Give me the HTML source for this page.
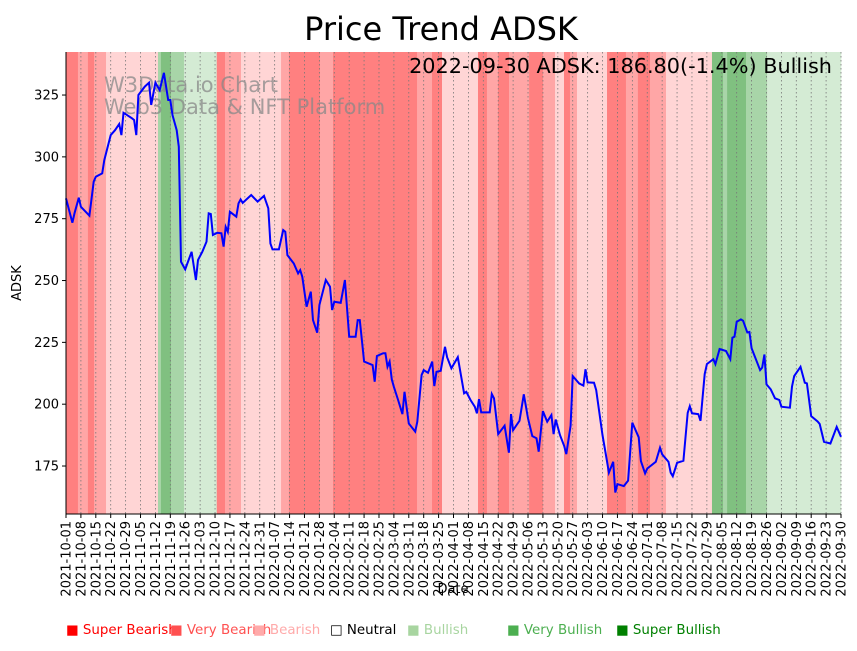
<!DOCTYPE html>
<html><head><meta charset="utf-8"><style>
body{margin:0;background:#fff;font-family:"Liberation Sans","DejaVu Sans",sans-serif;}
svg text{font-family:"DejaVu Sans","Liberation Sans",sans-serif;}
</style></head><body>
<svg id="chart" width="857" height="646" xmlns="http://www.w3.org/2000/svg">
<text x="441" y="40" font-size="32" text-anchor="middle" fill="#000">Price Trend ADSK</text>
<g id="bands"></g>
<g id="grid"></g>
<text x="104" y="92" font-size="21" fill="#888" fill-opacity="0.75">W3Data.io Chart</text>
<text x="104" y="114" font-size="21" fill="#888" fill-opacity="0.75">Web3 Data &amp; NFT Platform</text>
<polyline id="line" fill="none" stroke="#0000ff" stroke-width="2"/>
<text x="832" y="73" font-size="20.8" text-anchor="end" fill="#000">2022-09-30 ADSK: 186.80(-1.4%) Bullish</text>
<g id="xaxis"></g>
<g id="yaxis"></g>
<line x1="66" y1="52" x2="66" y2="514" stroke="#000"/>
<line x1="66" y1="514" x2="841" y2="514" stroke="#000"/>
<text x="453" y="593" font-size="13" text-anchor="middle">Date</text>
<text transform="translate(21,283) rotate(-90)" font-size="13" text-anchor="middle">ADSK</text>
<g id="legend" font-size="13.4">
<g><text x="66" y="634" fill="#ff0000">■ Super Bearish</text></g>
<g><text x="170" y="634" fill="#ff5050">■ Very Bearish</text></g>
<g><text x="253" y="634" fill="#ffaaaa">■ Bearish</text></g>
<g><text x="330" y="634" fill="#000">□ Neutral</text></g>
<g><text x="407" y="634" fill="#a8d5a0">■ Bullish</text></g>
<g><text x="507" y="634" fill="#4caf50">■ Very Bullish</text></g>
<g><text x="616" y="634" fill="#008000">■ Super Bullish</text></g>
</g>
</svg>
<script>
const days=[0,3,4,6,7,11,13,14,17,18,21,23,25,26,27,28,31,32,33,34,37,39,40,42,44,46,48,49,50,52,53,54,56,59,61,62,64,66,67,68,69,71,73,74,75,76,77,80,81,82,83,87,90,93,95,96,97,100,102,103,104,107,109,110,111,113,115,116,118,119,122,124,125,126,129,131,133,136,137,138,140,144,145,146,149,150,151,152,153,154,156,158,159,161,164,165,167,168,170,172,173,174,176,178,179,181,184,187,188,190,192,193,194,195,199,200,201,203,206,208,209,210,213,215,217,219,221,222,224,226,228,229,230,232,234,235,237,238,241,243,244,245,248,249,252,254,255,257,258,259,262,264,266,269,270,272,273,277,279,280,283,284,285,287,290,292,293,294,297,298,300,301,304,305,307,310,312,313,314,315,317,318,320,321,322,326,327,328,329,331,333,335,336,340,341,342,345,347,348,350,353,354,356,359,362,364];
const prices=[283.2,273.4,277.2,283.5,279.8,276.2,290,292,293.3,298.7,308.8,310.8,313.3,308.8,317.8,317.3,315.6,314.9,308.8,325,328.4,330,321,330,327,334,323,323,316.9,310.8,304.1,257.6,254.5,261.6,250.2,258.3,261.6,265.7,277.2,276.9,268.4,269.3,269.1,263.7,271.7,269.7,277.8,275.8,281.2,282.8,281.4,284.6,281.9,284.2,279.2,265,262.6,262.6,270.4,269.7,260.3,256.9,252.9,254.2,251.5,239.4,245.5,234,228.9,240.1,250.2,247.5,238.1,241.4,241,250.2,227.3,227.3,234,234,217.2,215.8,209.1,219.5,220.6,220.6,215.1,217.2,210,207,201.7,196,205,192.2,188.9,192.9,211.8,213.8,212.7,217.2,207.3,213.1,213.5,223.2,219,214.5,219,204.4,205,201.7,199,196.3,202,196.7,196.7,204.1,202.4,187.9,191.3,180.4,196,189.5,193.3,204,194.3,187.1,186.2,180.8,197.2,192.9,195.6,187.9,193.8,187.5,183.1,179.8,191.3,211.4,208.4,207.5,214.1,208.8,208.7,205.7,187.5,177.4,172.3,176.7,164.3,167.7,166.9,169.1,192.5,186.6,177,172,174,176.7,182.4,179.7,176.7,172.3,170.9,176.3,177.1,196.5,199.2,196.3,196,193.3,212.2,216.2,218.2,216.2,222.3,221.5,218.2,226.9,227.3,233.3,234.3,233.7,229,229.2,222.6,213.8,214.8,220.1,208,206,202.4,201.7,199,198.6,207.1,211.4,215.1,208.7,208.4,195.2,193,192,184.8,184.1,190.8,186.8];
const bandStarts=[0,5.6,10.3,13.2,18.8,43.2,44.6,49.3,55.4,70.8,74.7,82.2,101,104.7,119.3,125.4,164.9,171.9,176.6,193.5,197.7,202.9,208.1,217.5,224,229.7,233.9,236.7,240,254.1,263,268.6,274.3,281.8,303.4,308.6,310.5,319.4,329.3];
const bandLevels=[3,2,3,2,1,-2,-3,-2,-1,3,2,1,2,3,2,3,2,3,1,3,2,3,2,3,2,1,3,2,1,3,2,3,2,1,-3,-2,-3,-2,-1];
const yTicks=[175,200,225,250,275,300,325];
const totalDays=364;
const X0=66,X1=841,Y0=514,Y1=52,PMIN=155.6,PMAX=342.4;
const xs=d=>X0+(X1-X0)*d/totalDays;
const ys=p=>Y0-(Y0-Y1)*(p-PMIN)/(PMAX-PMIN);
const NS="http://www.w3.org/2000/svg";
const colors={"3":"#ff8080","2":"#ffa6a6","1":"#ffd5d5","-1":"#d4ebd4","-2":"#a8d5a8","-3":"#80c080"};
const bg=document.getElementById('bands');
for(let i=0;i<bandStarts.length;i++){
  const s=bandStarts[i],e=i+1<bandStarts.length?bandStarts[i+1]:totalDays;
  const r=document.createElementNS(NS,'rect');
  
  
  r.setAttribute('x',xs(s));r.setAttribute('width',xs(e)-xs(s)+0.3);
  r.setAttribute('y',Y1);r.setAttribute('height',Y0-Y1);
  r.setAttribute('fill',colors[bandLevels[i]]);
  bg.appendChild(r);
}
const gg=document.getElementById('grid'),xa=document.getElementById('xaxis');
const base=new Date(Date.UTC(2021,9,1));
for(let d=0;d<=totalDays;d+=7){
  const x=xs(d);
  const l=document.createElementNS(NS,'line');
  
  
  l.setAttribute('x1',x);l.setAttribute('x2',x);l.setAttribute('y1',Y1);l.setAttribute('y2',Y0);
  l.setAttribute('stroke','#777');l.setAttribute('stroke-width','0.8');l.setAttribute('stroke-dasharray','1.5,2.5');
  gg.appendChild(l);
  const t=document.createElementNS(NS,'line');
  
  
  t.setAttribute('x1',x);t.setAttribute('x2',x);t.setAttribute('y1',Y0);t.setAttribute('y2',Y0+4);t.setAttribute('stroke','#000');
  xa.appendChild(t);
  const dt=new Date(base.getTime()+d*86400000);
  const lab=dt.toISOString().slice(0,10);
  const tx=document.createElementNS(NS,'text');
  
  
  tx.setAttribute('transform','translate('+(x+4.5)+','+(Y0+7)+') rotate(-90)');
  tx.setAttribute('font-size','13');tx.setAttribute('text-anchor','end');
  tx.textContent=lab;xa.appendChild(tx);
}
const ya=document.getElementById('yaxis');
yTicks.forEach(v=>{
  const y=ys(v);
  const t=document.createElementNS(NS,'line');
  
  
  t.setAttribute('x1',X0-4);t.setAttribute('x2',X0);t.setAttribute('y1',y);t.setAttribute('y2',y);t.setAttribute('stroke','#000');
  ya.appendChild(t);
  const tx=document.createElementNS(NS,'text');
  
  
  tx.setAttribute('x',X0-7);tx.setAttribute('y',y+4.5);tx.setAttribute('font-size','13');tx.setAttribute('text-anchor','end');
  tx.textContent=v;ya.appendChild(tx);
});
document.getElementById('line').setAttribute('points',days.map((d,i)=>xs(d).toFixed(1)+','+ys(prices[i]).toFixed(1)).join(' '));
</script>
</body></html>
